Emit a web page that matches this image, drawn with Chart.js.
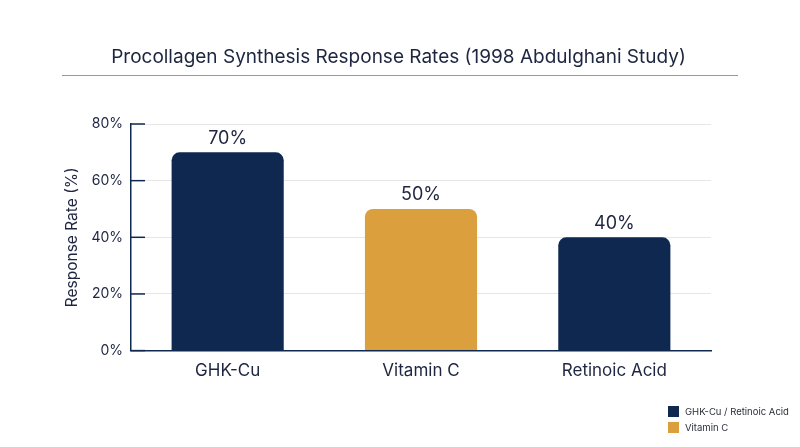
<!DOCTYPE html>
<html>
<head>
<meta charset="utf-8">
<script src="https://cdn.jsdelivr.net/npm/chart.js@4"></script>
<style>
  html, body { margin: 0; padding: 0; background: #fff; }
  #wrap { position: relative; width: 800px; height: 447px; }
  #myChart { position: absolute; left: 0; top: 0; }
  .title { position: absolute; left: 0; width: 797px; top: 45px; text-align: center; font-family: Inter, sans-serif; font-size: 19px; line-height: 24px; color: #1d2540; }
  .rule { position: absolute; left: 62px; top: 75px; width: 676px; height: 0; border-top: 1.5px solid #9a9a9a; }
  .legend { position: absolute; left: 668px; top: 403px; font-family: Inter, sans-serif; font-size: 9.5px; color: #2b2f3a; }
  .legend div { display: flex; align-items: center; height: 16px; }
  .legend span { display: inline-block; width: 11px; height: 11px; margin-right: 6px; }
</style>
</head>
<body>
<div id="wrap">
  <canvas id="myChart" width="800" height="447"></canvas>
  <div class="title">Procollagen Synthesis Response Rates (1998 Abdulghani Study)</div>
  <div class="rule"></div>
  <div class="legend" id="legend"></div>
</div>
<script>
const categories = ['GHK-Cu', 'Vitamin C', 'Retinoic Acid'];
const responseRates = [70, 50, 40];
const yTicks = [0, 20, 40, 60, 80];
const legendLabels = ['GHK-Cu / Retinoic Acid', 'Vitamin C'];

const NAVY = '#0f2850';
const GOLD = '#dc9f3e';
const TEXT = '#1d2540';
const FONT = 'Inter, sans-serif';
const barColors = [NAVY, GOLD, NAVY];
const legendColors = [NAVY, GOLD];

// html legend, bottom right
document.getElementById('legend').innerHTML = legendLabels
  .map((l, i) => '<div><span style="background:' + legendColors[i] + '"></span>' + l + '</div>')
  .join('');

// value labels above the bars + inward tick marks
const extras = {
  id: 'extras',
  afterDatasetsDraw(chart) {
    const c = chart.ctx;
    const meta = chart.getDatasetMeta(0);
    c.save();
    c.fillStyle = TEXT;
    c.font = '18px ' + FONT;
    c.textAlign = 'center';
    c.textBaseline = 'middle';
    meta.data.forEach((bar, i) => {
      c.fillText(responseRates[i] + '%', bar.x, bar.y - 14);
    });
    c.restore();
  },
  afterDraw(chart) {
    const c = chart.ctx;
    const y = chart.scales.y;
    c.save();
    c.strokeStyle = NAVY;
    c.lineWidth = 1.5;
    yTicks.forEach(v => {
      const py = y.getPixelForValue(v);
      c.beginPath();
      c.moveTo(y.right, py);
      c.lineTo(y.right + 14, py);
      c.stroke();
    });
    c.restore();
  }
};

new Chart(document.getElementById('myChart'), {
  type: 'bar',
  data: {
    labels: categories,
    datasets: [{
      data: responseRates,
      backgroundColor: barColors,
      borderRadius: 8,
      borderSkipped: 'start',
      barPercentage: 0.58,
      categoryPercentage: 1.0,
    }]
  },
  options: {
    responsive: false,
    animation: false,
    layout: { padding: { left: 60, right: 89, top: 124, bottom: 56 } },
    plugins: {
      legend: { display: false },
      tooltip: { enabled: false },
      title: { display: false }
    },
    scales: {
      x: {
        grid: { display: false, drawTicks: false },
        border: { display: true, color: NAVY, width: 1.5 },
        ticks: {
          color: TEXT,
          padding: 10,
          font: { family: FONT, size: 17 }
        }
      },
      y: {
        min: 0,
        max: 80,
        afterFit(scale) { scale.width = 71; },
        afterBuildTicks(scale) { scale.ticks = yTicks.map(v => ({ value: v })); },
        ticks: {
          color: TEXT,
          padding: 8,
          font: { family: FONT, size: 14 },
          callback: v => v + '%'
        },
        grid: { color: '#e6e6e6', lineWidth: 1, drawTicks: false },
        border: { display: true, color: NAVY, width: 1.5 },
        title: {
          display: true,
          text: 'Response Rate (%)',
          color: TEXT,
          padding: { top: 3, bottom: 0 },
          font: { family: FONT, size: 15.5 }
        }
      }
    }
  },
  plugins: [extras]
});
</script>
</body>
</html>
